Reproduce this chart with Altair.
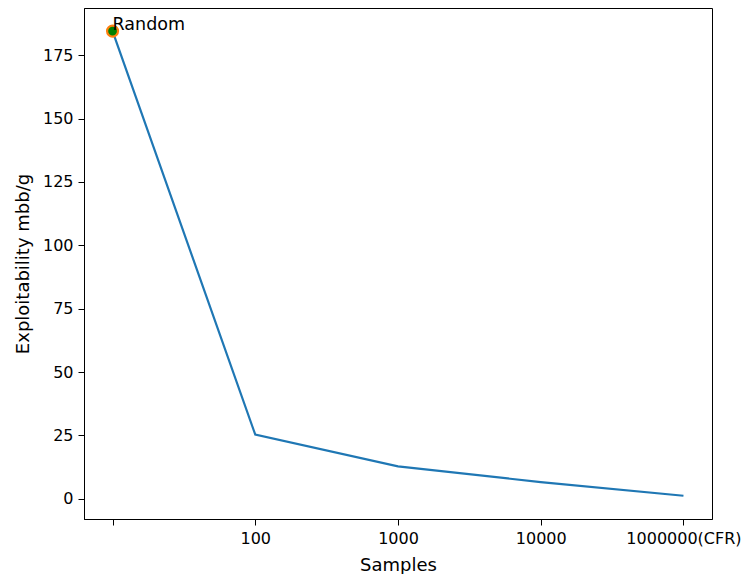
import altair as alt
import pandas as pd

positions = [0, 1, 2, 3, 4]
tick_labels = ["", "100", "1000", "10000", "1000000(CFR)"]
exploitability = [184.5, 25.3, 12.8, 6.6, 1.2]
marker_label = ["Random"]

df = pd.DataFrame({"pos": positions, "label": tick_labels, "value": exploitability})
first = df.iloc[[0]].assign(text=marker_label)

label_expr = "[" + ",".join(f"'{t}'" for t in tick_labels) + "][round(datum.value)]"

FONT = "DejaVu Sans"
FS = 16
TS = 18
x = alt.X("pos:Q", title="Samples",
          scale=alt.Scale(domain=[-0.2, 4.2], nice=False, zero=False),
          axis=alt.Axis(values=positions, labelExpr=label_expr, grid=False,
                        tickColor="black", domainColor="black", labelColor="black",
                        titleColor="black", tickSize=6, labelPadding=5,
                        labelFont=FONT, titleFont=FONT, labelFontSize=FS, titleFontSize=TS,
                        titleFontWeight="normal", titlePadding=10))
y = alt.Y("value:Q", title="Exploitability mbb/g",
          scale=alt.Scale(domain=[-7.96, 193.6], nice=False, zero=False),
          axis=alt.Axis(values=[0, 25, 50, 75, 100, 125, 150, 175], grid=False,
                        tickColor="black", domainColor="black", labelColor="black",
                        titleColor="black", tickSize=6, labelPadding=5,
                        labelFont=FONT, titleFont=FONT, labelFontSize=FS, titleFontSize=TS,
                        titleFontWeight="normal", titlePadding=10))

line = alt.Chart(df).mark_line(color="#1f77b4", strokeWidth=2.2).encode(x=x, y=y)
pt = alt.Chart(first).mark_point(filled=True, shape="circle", size=120,
                                 color="#008000", stroke="#ff7f0e",
                                 strokeWidth=2.2, opacity=1).encode(x=x, y=y)
txt = alt.Chart(first).mark_text(align="left", baseline="alphabetic", dx=0, dy=-1,
                                 font=FONT, fontSize=17.5, color="black").encode(
    x=x, y=y, text="text:N")

chart = (line + pt + txt).properties(
    width=628, height=511,
    autosize=alt.AutoSizeParams(type="none"),
    padding={"left": 76, "top": 0, "right": 30, "bottom": 55},
    background="white",
).configure_view(stroke="black", strokeWidth=1)

chart.save("out.html", embed_options={"renderer": "svg", "actions": False})
